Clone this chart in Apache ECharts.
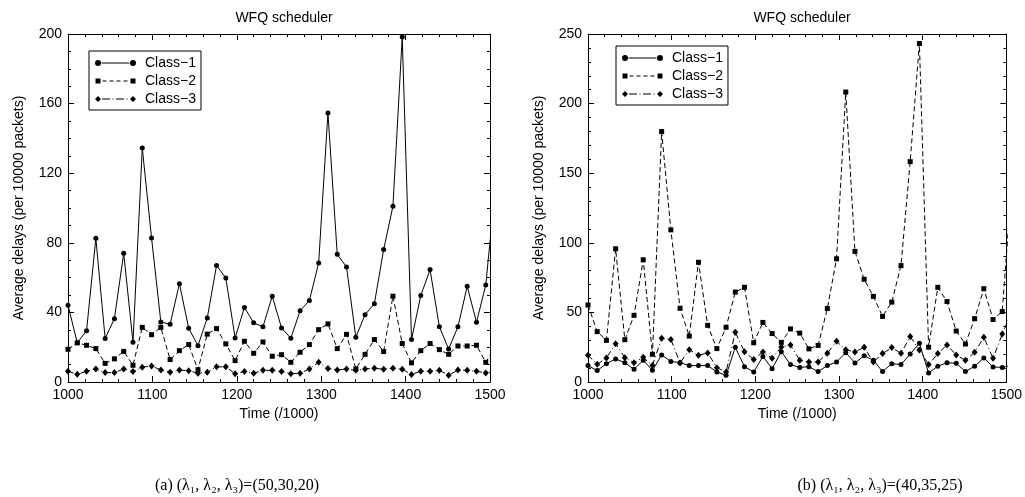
<!DOCTYPE html>
<html><head><meta charset="utf-8">
<script src="https://cdn.jsdelivr.net/npm/echarts@6/dist/echarts.min.js"></script>
<style>html,body{margin:0;padding:0;background:#fff}#c{width:1025px;height:497px}</style>
</head><body><div id="c"></div>
<script>
// ---- data ----
const times = [1000,1011,1022,1033,1044,1055,1066,1077,1088,1099,1110,1121,1132,1143,1154,1165,1176,1187,1198,1209,1220,1231,1242,1253,1264,1275,1286,1297,1308,1319,1330,1341,1352,1363,1374,1385,1396,1407,1418,1429,1440,1451,1462,1473,1484,1495,1506];
const seriesNames = ['Class\u22121','Class\u22122','Class\u22123'];
const leftClass1 = [44.1,22.5,29.5,82.6,25,36.4,74,22.8,134.5,82.8,34.5,33.2,56.5,30.9,20.9,36.8,66.9,59.8,25.3,42.8,34,31.7,49.3,31.1,25.1,41,46.8,68.4,154.6,73.4,66.1,25.7,38.7,45,76.1,101,198.3,24.4,49.7,64.6,31.7,19,31.7,55,34.3,55.8,110];
const leftClass2 = [18.8,22.5,21.1,19.2,10.7,13.3,17.6,9.6,31.4,27.2,31.4,12.9,18,21.5,7.1,27.5,30.7,21.9,12.3,23.4,16.5,23,14.8,15.7,11.3,17.1,21.5,30.1,33.4,19.2,27.4,7.5,15.9,24.4,17.5,49.3,22.1,11,18,22.1,18.6,15.9,20.7,20.7,21.1,11.3,20];
const leftClass3 = [6.2,4.4,6.2,7.5,5.4,5.4,7.5,6,8.5,9.2,6.9,5.6,6.9,6.5,5,5.6,8.7,8.7,4.8,6,5,6.7,6.7,6,4.8,5,7.5,11.3,7.7,6.9,7.5,6.7,7.5,7.9,7.3,7.9,7.3,4.3,6.2,6.2,6.7,3.9,6.9,6.7,6.2,5.2,6];
const rightClass1 = [11.8,8.2,13.2,16.6,13.9,9.1,15.6,8.4,19.4,14.8,13.9,11.8,11.8,11.8,7.2,4.8,24.9,11,7.2,18.4,9.6,21.8,12.5,10.5,11,7.5,11.8,14.4,21.1,13.7,18.9,15.6,7.5,13.2,12.5,20.1,27.8,6.5,11.3,13.9,13.4,7.5,11.3,17.3,10.8,10.5,12];
const rightClass2 = [55.3,36.2,29.9,95.7,30.4,47.9,87.8,19.9,179.9,109.3,53,33,86,40.7,24,39.3,64.6,68,28.2,42.8,34.8,28.5,38.1,35.1,23.8,26.3,52.8,88.5,208.3,93.8,73.8,61.5,47.1,57.4,83.6,158.3,243.2,25,68,57.8,36.6,27.3,45.5,67,44.9,50.6,140];
const rightClass3 = [19.2,12.7,17.3,27.5,17.5,13.9,17.7,11.8,31.4,30.6,13.7,23.2,19.2,20.9,10.3,7.2,35.7,21.8,16.1,21.6,17,25.2,26.6,15.6,14.4,14.4,20.6,29.2,23.2,21.6,24.9,14.4,20.4,24.7,20.6,32.6,23,12.5,20.4,26.6,19.4,15.6,21.3,32.1,17,34.5,50];
const xTickLabels = [1000,1100,1200,1300,1400,1500];
const leftYTicks = [0,40,80,120,160,200];
const rightYTicks = [0,50,100,150,200,250];
const chartTitle = 'WFQ scheduler';
const xName = 'Time (/1000)';
const yName = 'Average delays (per 10000 packets)';
const captionA = '(a) (\u03bb\u2081, \u03bb\u2082, \u03bb\u2083)=(50,30,20)';
const captionB = '(b) (\u03bb\u2081, \u03bb\u2082, \u03bb\u2083)=(40,35,25)';

// ---- chart ----
const FONT = 'Liberation Sans, Arial, Helvetica, sans-serif';
const FS = 14;
const pair = arr => arr.map((v,i)=>[times[i], v]);
const black = '#000';

function xAx(gi, pos, withLabel){
  return {type:'value', gridIndex:gi, position:pos,
    min:xTickLabels[0], max:xTickLabels[xTickLabels.length-1], interval:xTickLabels[1]-xTickLabels[0],
    axisLine:{show:true,onZero:false,lineStyle:{color:black,width:1}},
    axisTick:{show:true,inside:true,length:6,lineStyle:{color:black,width:1}},
    minorTick:{show:true,splitNumber:5,length:3,lineStyle:{color:black,width:1}},
    splitLine:{show:false},
    axisLabel:{show:withLabel,color:black,fontFamily:FONT,fontSize:FS,margin:6,formatter:v=>String(v)},
    name: withLabel? xName : '', nameLocation:'middle', nameGap:24,
    nameTextStyle:{color:black,fontFamily:'Liberation Sans Narrow, '+FONT,fontSize:FS}
  };
}
function yAx(gi, pos, ticks, minorSplit, withLabel){
  return {type:'value', gridIndex:gi, position:pos,
    min:ticks[0], max:ticks[ticks.length-1], interval:ticks[1]-ticks[0],
    axisLine:{show:true,onZero:false,lineStyle:{color:black,width:1}},
    axisTick:{show:true,inside:true,length:6,lineStyle:{color:black,width:1}},
    minorTick:{show:true,splitNumber:minorSplit,length:3,lineStyle:{color:black,width:1}},
    splitLine:{show:false},
    axisLabel:{show:withLabel,color:black,fontFamily:FONT,fontSize:FS,margin:6,formatter:v=>String(v)},
    name: withLabel? yName : '', nameLocation:'middle', nameGap:42,
    nameTextStyle:{color:black,fontFamily:FONT,fontSize:FS}
  };
}
const styles = [
  {symbol:'circle', symbolSize:5, type:'solid'},
  {symbol:'rect', symbolSize:5, type:[5,3]},
  {symbol:'diamond', symbolSize:[6,7], type:[6,3,1,3]}
];
// legend sample icons (gnuplot style: marker at both ends of the line sample)
const legendIcons = [
  'path://M0,3a3,3 0 1,0 6,0a3,3 0 1,0 -6,0ZM6.5,2.5L34.5,2.5L34.5,3.5L6.5,3.5ZM35,3a3,3 0 1,0 6,0a3,3 0 1,0 -6,0Z',
  'path://M0.5,0.5L5.5,0.5L5.5,5.5L0.5,5.5ZM7.5,2.5L11.5,2.5L11.5,3.5L7.5,3.5ZM14.5,2.5L18.5,2.5L18.5,3.5L14.5,3.5ZM21.5,2.5L25.5,2.5L25.5,3.5L21.5,3.5ZM28.5,2.5L32.5,2.5L32.5,3.5L28.5,3.5ZM35.5,0.5L40.5,0.5L40.5,5.5L35.5,5.5ZM0,0L0,0.01L0.01,0ZM41,6L41,5.99L40.99,6Z',
  'path://M0,3L3,0L6,3L3,6ZM7,2.5L15,2.5L15,3.5L7,3.5ZM17.5,2.5L18.5,2.5L18.5,3.5L17.5,3.5ZM21,2.5L29,2.5L29,3.5L21,3.5ZM31.5,2.5L32.5,2.5L32.5,3.5L31.5,3.5ZM35,3L38,0L41,3L38,6Z'
];
function mk(name, data, xi, yi, st){
  return {type:'line', name:name, xAxisIndex:xi, yAxisIndex:yi, data:pair(data),
    symbol:st.symbol, symbolSize:st.symbolSize, showAllSymbol:true, clip:true,
    lineStyle:{color:black,width:1,type:st.type}, itemStyle:{color:black},
    animation:false, emphasis:{disabled:true}};
}
function legend(left, top){
  return {show:true, orient:'vertical', left:left, top:top,
    data:seriesNames.map((n,i)=>({name:n, icon:legendIcons[i]})),
    itemWidth:41, itemHeight:6, itemGap:4, padding:[5,5,4,6],
    itemStyle:{color:black, borderWidth:0},
    borderColor:black, borderWidth:1, borderRadius:0, backgroundColor:'#fff',
    textStyle:{color:black,fontFamily:FONT,fontSize:FS,padding:[0,0,0,4]}, selectedMode:false, inactiveColor:black};
}
const chart = echarts.init(document.getElementById('c'), null, {renderer:'canvas'});
chart.setOption({
  backgroundColor:'#fff',
  animation:false,
  title:[
    {text:chartTitle, left:279, top:6, textAlign:'center', textStyle:{color:black,fontFamily:FONT,fontSize:FS,fontWeight:'normal'}},
    {text:chartTitle, left:797, top:6, textAlign:'center', textStyle:{color:black,fontFamily:FONT,fontSize:FS,fontWeight:'normal'}}
  ],
  grid:[
    {left:68, top:34, width:422, height:348},
    {left:588, top:34, width:420, height:348}
  ],
  legend:[legend(89,51), legend(616,46)],
  xAxis:[xAx(0,'bottom',true), xAx(0,'top',false), xAx(1,'bottom',true), xAx(1,'top',false)],
  yAxis:[yAx(0,'left',leftYTicks,4,true), yAx(0,'right',leftYTicks,4,false), yAx(1,'left',rightYTicks,5,true), yAx(1,'right',rightYTicks,5,false)],
  series:[
    mk(seriesNames[0], leftClass1, 0, 0, styles[0]),
    mk(seriesNames[1], leftClass2, 0, 0, styles[1]),
    mk(seriesNames[2], leftClass3, 0, 0, styles[2]),
    mk(seriesNames[0], rightClass1, 2, 2, styles[0]),
    mk(seriesNames[1], rightClass2, 2, 2, styles[1]),
    mk(seriesNames[2], rightClass3, 2, 2, styles[2])
  ],
  graphic:[
    {type:'text', x:237, y:486, style:{text:captionA, align:'center', verticalAlign:'middle', textAlign:'center', textVerticalAlign:'middle', font:'16px "Liberation Serif", "DejaVu Serif", serif', fill:black}},
    {type:'text', x:880, y:486, style:{text:captionB, align:'center', verticalAlign:'middle', textAlign:'center', textVerticalAlign:'middle', font:'16px "Liberation Serif", "DejaVu Serif", serif', fill:black}}
  ]
});
</script>
</body></html>
